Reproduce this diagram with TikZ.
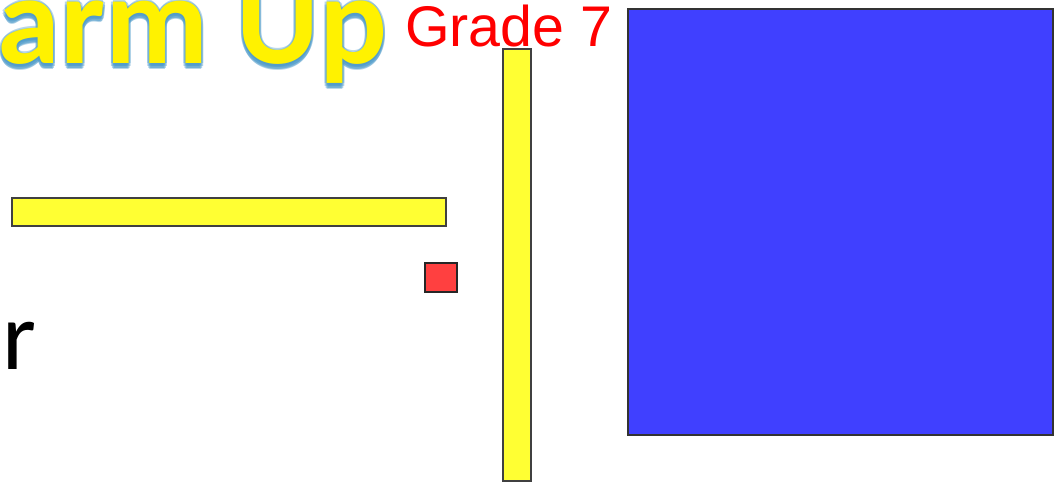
\documentclass[tikz,border=0pt]{standalone}
\usepackage{fontspec}
\usetikzlibrary{positioning}
\newfontfamily\slidefont{Carlito}
\newfontfamily\gradefont{Liberation Sans}
\definecolor{barYellow}{HTML}{FFFF33}
\definecolor{dotRed}{HTML}{FF4040}
\definecolor{tileBlue}{HTML}{4040FF}
\definecolor{glowBlue}{HTML}{4A98C8}

\begin{document}
\begin{tikzpicture}[x=0.75pt, y=-0.75pt,
                    tile/.style={rectangle, draw=black!75, line width=1.5pt, inner sep=0},
                    bar/.style={tile, fill=barYellow},
                    warm/.style={anchor=base west, inner sep=0, font=\slidefont\bfseries\fontsize{95}{95}\selectfont}]
    \useasboundingbox (0,0) rectangle (1064,483);
    \clip (0,0) rectangle (1064,483);

    % Title (cut off at the left edge)
    \foreach \dx/\dy [count=\i] in {-2/0, 2/0, 0/-2, 0/2, -2/3, 2/3, -1/5, 1/5, 0/6}
        \node[warm, text=glowBlue, opacity=0.4] (glow\i) at (-113+\dx,63+\dy) {Warm Up};
    \node[warm, text=yellow] (warmup) at (-113,63) {Warm Up};
    \node[anchor=base west, inner sep=0, text=red, font=\gradefont\fontsize{43}{43}\selectfont] (grade) at (405,46) {Grade 7};

    % Left over letter
    \node[anchor=base west, inner sep=0, font=\slidefont\fontsize{73}{73}\selectfont] (letter) at (2,369) {r};

    % Rods, unit and flat
    \node[bar, minimum width=325.5pt, minimum height=21pt] (rodH) at (229,212) {};
    \node[bar, minimum width=21pt, minimum height=324pt] (rodV) at (517,265) {};
    \node[tile, fill=dotRed, draw=black!85, minimum width=24pt, minimum height=21.75pt] (unit) at (441,277.5) {};
    \node[tile, fill=tileBlue, draw=black!80, minimum width=318.75pt, minimum height=319.5pt] (flat) at (840.5,222) {};
\end{tikzpicture}
\end{document}
